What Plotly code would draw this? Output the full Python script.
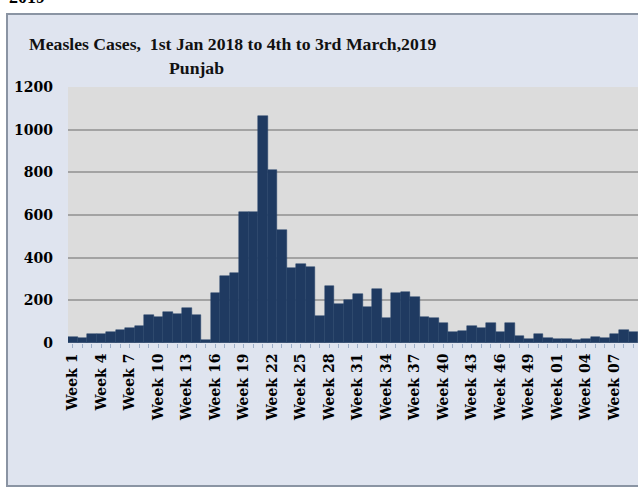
import plotly.graph_objects as go

weeks_2018 = [f"Week {i}" for i in range(1, 52)]
weeks_2019 = [f"Week {i:02d}" for i in range(1, 10)]
categories = weeks_2018 + weeks_2019

cases = [30, 22, 40, 41, 50, 62, 72, 80, 131, 124,
         144, 137, 164, 131, 12, 235, 314, 330, 615, 615,
         1065, 810, 530, 350, 372, 355, 125, 267, 183, 201,
         229, 170, 251, 116, 236, 240, 217, 123, 116, 95,
         53, 58, 80, 69, 95, 53, 95, 33, 17, 42,
         24, 20, 20, 12, 20, 28, 22, 42, 61, 50]

tick_labels = [c if i % 3 == 0 else "" for i, c in enumerate(categories)]

title_line1 = "Measles Cases,  1st Jan 2018 to 4th to 3rd March,2019"
title_line2 = "Punjab"
corner_text = "2019"

W, H = 638, 487
L, R, T, B = 68, 0, 87, 144
PW, PH = W - L - R, H - T - B


def px(x):
    return (x - L) / PW


def py(y):
    return (H - B - y) / PH


serif = "Liberation Serif"
tick_serif = "DejaVu Serif"

fig = go.Figure()
fig.add_trace(go.Bar(
    x=categories, y=cases,
    marker=dict(color="#1f3a61", line=dict(color="#24426b", width=0.5)),
    width=1.0,
))

fig.update_layout(
    width=W, height=H,
    margin=dict(l=L, r=R, t=T, b=B, pad=0),
    paper_bgcolor="white",
    plot_bgcolor="rgba(0,0,0,0)",
    showlegend=False,
    bargap=0,
    shapes=[
        dict(type="rect", xref="paper", yref="paper", layer="below",
             x0=px(7), x1=px(641), y0=py(486), y1=py(14),
             fillcolor="#dfe4ef", line=dict(color="#8a94a3", width=2)),
        dict(type="rect", xref="paper", yref="paper", layer="below",
             x0=0, x1=1, y0=0, y1=1,
             fillcolor="#dcdcdc", line=dict(width=0)),
    ],
    annotations=[
        dict(text=f"<b>{corner_text}</b>", xref="paper", yref="paper", x=px(7), y=py(-3),
             xanchor="left", yanchor="middle", showarrow=False,
             font=dict(family=serif, size=18, color="black")),
        dict(text=f"<b>{title_line1}</b>", xref="paper", yref="paper",
             x=px(27), y=py(44), xanchor="left", yanchor="middle", showarrow=False,
             font=dict(family=serif, size=17.7, color="#111111")),
        dict(text=f"<b>{title_line2}</b>", xref="paper", yref="paper",
             x=px(196), y=py(68), xanchor="center", yanchor="middle", showarrow=False,
             font=dict(family=serif, size=17.7, color="#111111")),
    ],
)

fig.update_xaxes(
    type="category",
    categoryorder="array", categoryarray=categories,
    range=[-0.5, 59.5],
    tickmode="array", tickvals=categories, ticktext=tick_labels,
    tickangle=-90,
    ticks="outside", ticklen=4, tickcolor="#9fb0c9", tickwidth=1,
    tickfont=dict(family=tick_serif, size=14, color="black", weight="bold"),
    showgrid=False, showline=False, zeroline=False,
)

fig.update_yaxes(
    range=[0, 1200],
    tickmode="linear", tick0=0, dtick=200,
    showgrid=True, gridcolor="#a3a3a3", gridwidth=1.5,
    zeroline=False, showline=False,
    ticks="", ticklabelstandoff=14,
    tickfont=dict(family=tick_serif, size=14, color="black", weight="bold"),
)

fig.write_html("out.html")
